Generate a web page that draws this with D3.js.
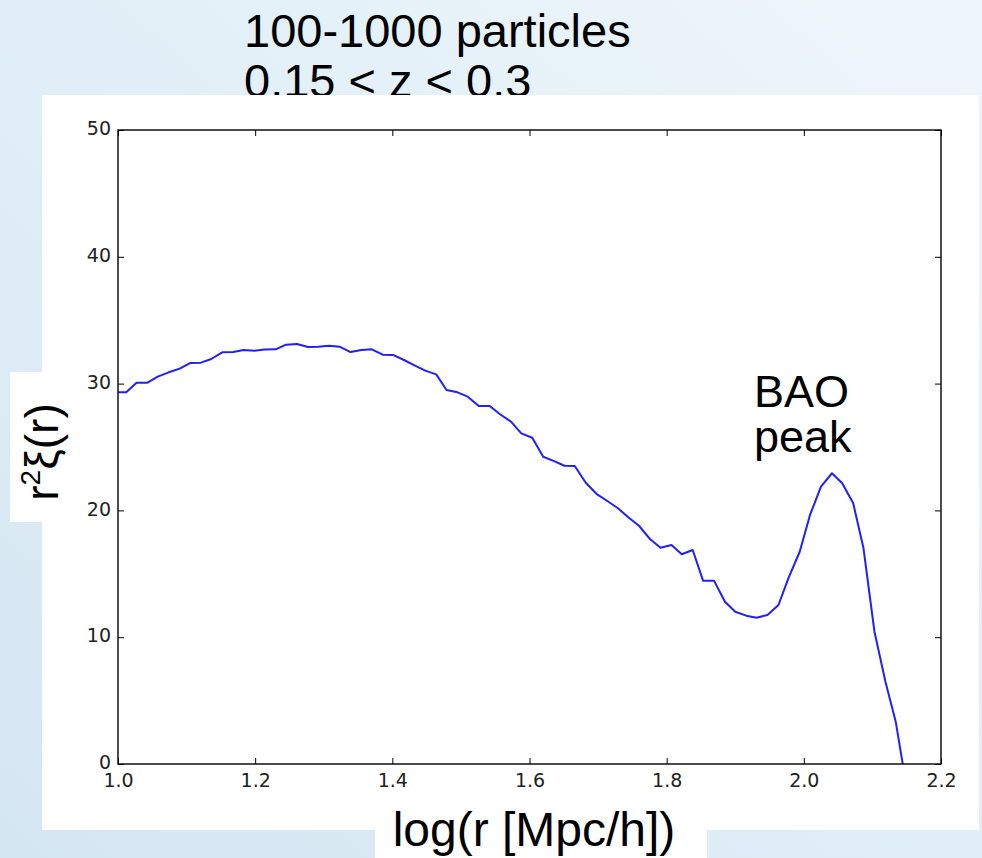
<!DOCTYPE html>
<html><head><meta charset="utf-8">
<script src="https://cdn.jsdelivr.net/npm/d3@7"></script>
<style>body{margin:0;padding:0;overflow:hidden}svg{display:block}</style>
</head><body>
<svg id="chart" width="982" height="858"></svg>
<script>
// ---- data ----
const logR = [0.996,1.012,1.027,1.043,1.058,1.074,1.090,1.105,1.121,1.136,1.152,1.168,1.183,1.199,1.214,1.230,1.245,1.261,1.277,1.292,1.308,1.323,1.339,1.355,1.370,1.386,1.401,1.417,1.433,1.448,1.464,1.479,1.495,1.510,1.526,1.542,1.557,1.573,1.588,1.604,1.620,1.635,1.651,1.666,1.682,1.698,1.713,1.729,1.744,1.760,1.776,1.791,1.807,1.822,1.838,1.853,1.869,1.885,1.900,1.916,1.931,1.947,1.963,1.978,1.994,2.009,2.025,2.041,2.056,2.072,2.087,2.103,2.119,2.134,2.150];
const r2xi = [29.31,29.31,30.07,30.07,30.55,30.89,31.18,31.62,31.65,31.94,32.47,32.49,32.65,32.60,32.68,32.70,33.07,33.12,32.89,32.91,32.99,32.91,32.49,32.65,32.70,32.28,32.26,31.86,31.42,31.02,30.73,29.50,29.31,28.97,28.23,28.23,27.58,27.00,26.08,25.73,24.23,23.90,23.52,23.50,22.18,21.29,20.76,20.17,19.46,18.77,17.72,17.06,17.27,16.54,16.88,14.46,14.46,12.80,12.01,11.70,11.54,11.75,12.54,14.72,16.74,19.64,21.87,22.93,22.14,20.56,17.01,10.43,6.49,3.34,-1.9];
const xTicks = [1.0,1.2,1.4,1.6,1.8,2.0,2.2];
const yTicks = [0,10,20,30,40,50];
const titleLines = ["100-1000 particles","0.15 < z < 0.3"];
const annotationLines = ["BAO","peak"];
const xLabel = "log(r [Mpc/h])";

// ---- layout ----
const svg = d3.select("#chart");
const W = 982, H = 858;
const plot = {left:118, right:941, top:130, bottom:764};
const bigFont = "'Liberation Sans', Arial, sans-serif";

const defs = svg.append("defs");
const grad = defs.append("linearGradient").attr("id","bg").attr("x1","0").attr("y1","1").attr("x2","1").attr("y2","0");
grad.append("stop").attr("offset","0").attr("stop-color","#d5e6f3");
grad.append("stop").attr("offset","0.6").attr("stop-color","#e3f0f8");
grad.append("stop").attr("offset","1").attr("stop-color","#eff6fb");
svg.append("rect").attr("width",W).attr("height",H).attr("fill","url(#bg)");

// title (bottom edge just touching the white panel, as in the slide)
svg.append("g").selectAll("text").data(titleLines).join("text")
  .attr("x",244).attr("y",(d,i)=>47+i*50)
  .attr("font-family",bigFont).attr("font-size",47).attr("fill","#000")
  .text(d=>d);

// white panels
svg.append("rect").attr("x",42).attr("y",95).attr("width",937).attr("height",735).attr("fill","#fff");
svg.append("rect").attr("x",10).attr("y",372).attr("width",33).attr("height",150).attr("fill","#fff");
svg.append("rect").attr("x",375).attr("y",829).attr("width",332).attr("height",29).attr("fill","#fff");

const x = d3.scaleLinear().domain([1.0,2.2]).range([plot.left,plot.right]);
const y = d3.scaleLinear().domain([0,50]).range([plot.bottom,plot.top]);

defs.append("clipPath").attr("id","clip").append("rect")
  .attr("x",plot.left).attr("y",plot.top).attr("width",plot.right-plot.left).attr("height",plot.bottom-plot.top);

// line
const data = logR.map((v,i)=>[v,r2xi[i]]);
svg.append("path").datum(data)
  .attr("clip-path","url(#clip)")
  .attr("fill","none").attr("stroke","#1f1fff").attr("stroke-width",2)
  .attr("stroke-linejoin","round")
  .attr("d", d3.line().x(d=>x(d[0])).y(d=>y(d[1])));

// axes
const tickFont = "'DejaVu Sans', sans-serif";
const gx = svg.append("g").attr("transform",`translate(0,${plot.bottom})`)
  .call(d3.axisBottom(x).tickValues(xTicks).tickFormat(d3.format(".1f")).tickSizeInner(-6).tickSizeOuter(0).tickPadding(8));
const gy = svg.append("g").attr("transform",`translate(${plot.left},0)`)
  .call(d3.axisLeft(y).tickValues(yTicks).tickFormat(d3.format("d")).tickSizeInner(-6).tickSizeOuter(0).tickPadding(7));
const gt = svg.append("g").attr("transform",`translate(0,${plot.top})`)
  .call(d3.axisTop(x).tickValues(xTicks).tickFormat("").tickSizeInner(-6).tickSizeOuter(0));
const gr = svg.append("g").attr("transform",`translate(${plot.right},0)`)
  .call(d3.axisRight(y).tickValues(yTicks).tickFormat("").tickSizeInner(-6).tickSizeOuter(0));
[gx,gy,gt,gr].forEach(g=>{
  g.select(".domain").remove();
  g.selectAll(".tick line").attr("stroke","#000").attr("stroke-width",1);
  g.selectAll(".tick text").attr("font-family",tickFont).attr("font-size",19).attr("fill","#222");
});
gx.selectAll(".tick text").attr("y",0).attr("dy",0).attr("transform","translate(0,23)");
gy.selectAll(".tick text").attr("dy","0.25em");
// frame
svg.append("rect").attr("x",plot.left).attr("y",plot.top)
  .attr("width",plot.right-plot.left).attr("height",plot.bottom-plot.top)
  .attr("fill","none").attr("stroke","#000").attr("stroke-width",1.4);

// annotation
svg.append("g").selectAll("text").data(annotationLines).join("text")
  .attr("x",754).attr("y",(d,i)=>407+i*45)
  .attr("font-family",bigFont).attr("font-size",45).attr("fill","#000")
  .text(d=>d);

// x label
svg.append("text").attr("x",534).attr("y",846).attr("text-anchor","middle")
  .attr("font-family",bigFont).attr("font-size",48).attr("fill","#000")
  .text(xLabel);

// y label
const yl = svg.append("text").attr("transform","translate(58,452) rotate(-90)")
  .attr("text-anchor","middle")
  .attr("font-family",bigFont).attr("font-size",46).attr("fill","#000");
yl.append("tspan").text("r");
yl.append("tspan").attr("font-size",28).attr("dy",-18).text("2");
yl.append("tspan").attr("dy",18).text("ξ(r)");
</script>
</body></html>
